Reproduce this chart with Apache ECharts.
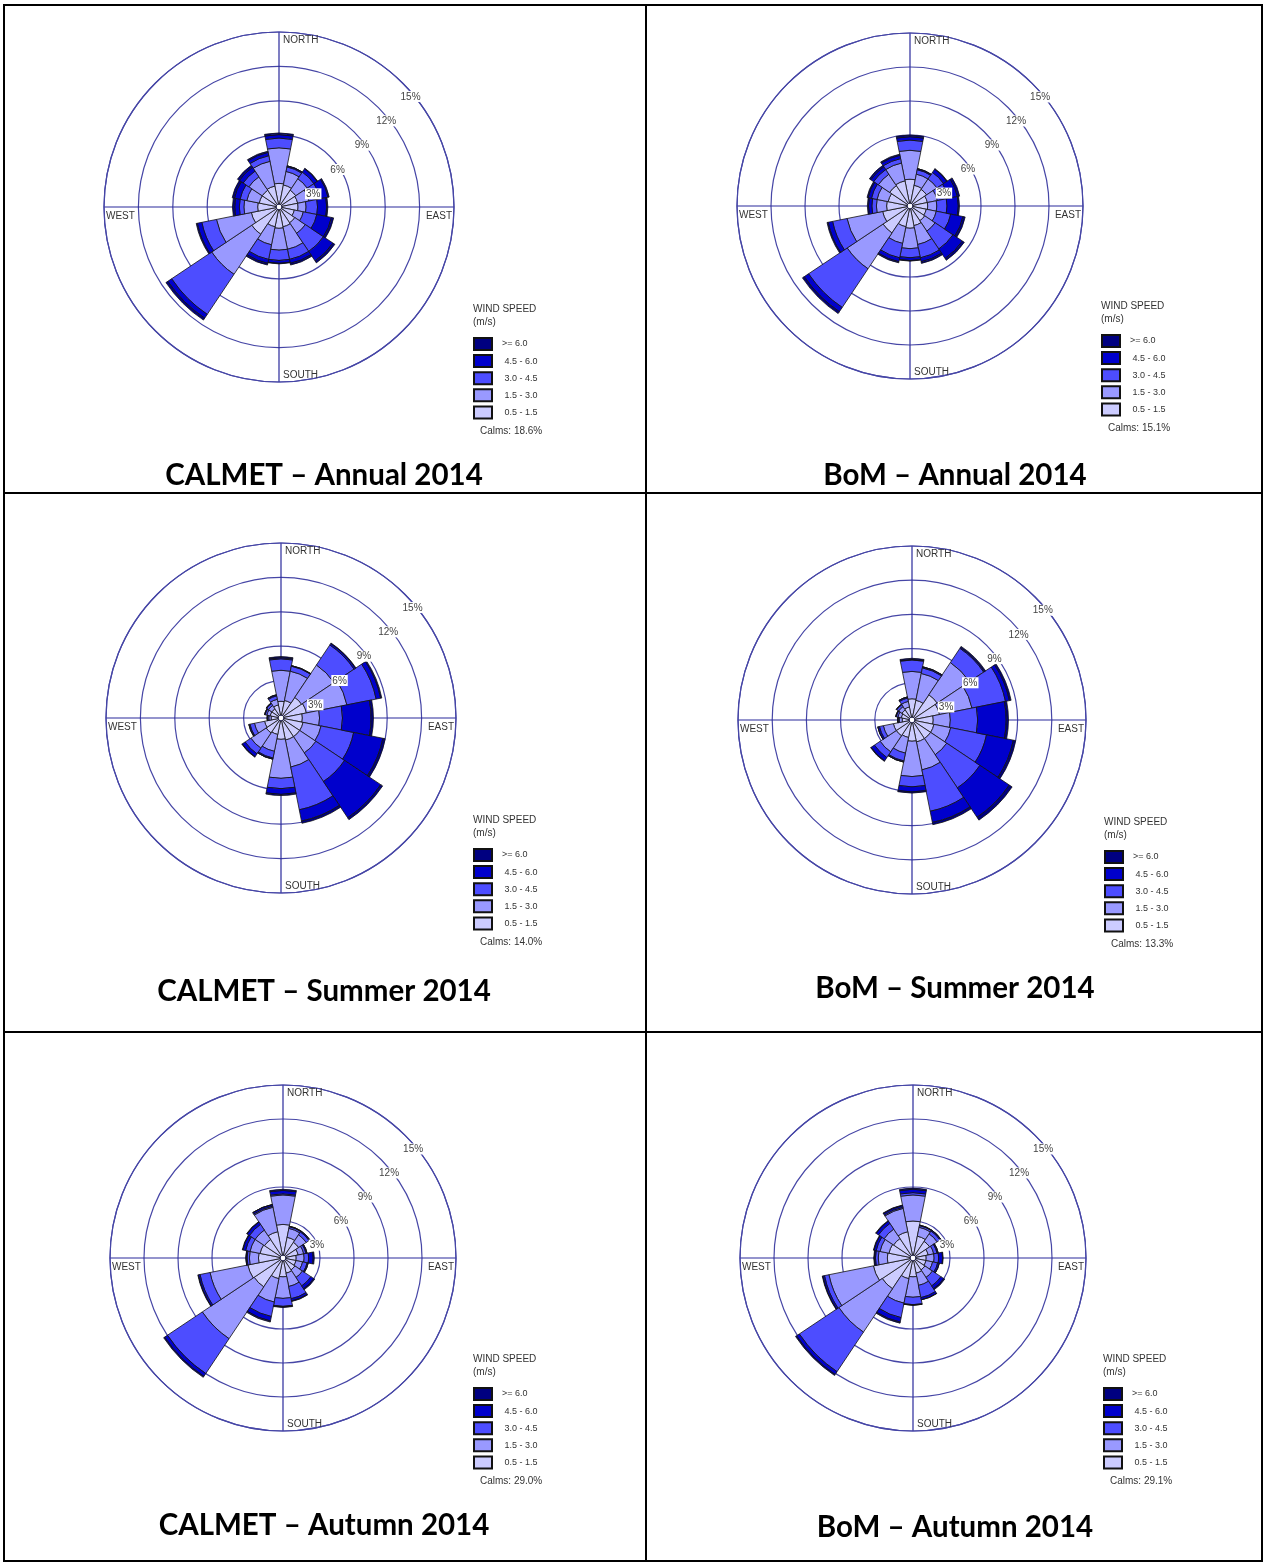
<!DOCTYPE html>
<html>
<head>
<meta charset="utf-8">
<title>Wind roses 2014 - CALMET vs BoM</title>
<script src="https://cdn.jsdelivr.net/npm/echarts@6/dist/echarts.min.js"></script>
<style>
  html, body { margin: 0; padding: 0; background: #fff; }
  #main { width: 1266px; height: 1564px; }
</style>
</head>
<body>
<div id="main"></div>
<script>
// categories and scale
var directions = ['N', 'NNE', 'NE', 'ENE', 'E', 'ESE', 'SE', 'SSE', 'S', 'SSW', 'SW', 'WSW', 'W', 'WNW', 'NW', 'NNW'];
var speedBins = ['0.5 - 1.5', '1.5 - 3.0', '3.0 - 4.5', '4.5 - 6.0', '>= 6.0'];
var binColors = ['#ccccff', '#9999ff', '#4d4dff', '#0000cc', '#000080'];
var ringTicks = [3, 6, 9, 12, 15];
var panelTitles = ['CALMET \u2013 Annual 2014', 'BoM \u2013 Annual 2014',
                   'CALMET \u2013 Summer 2014', 'BoM \u2013 Summer 2014',
                   'CALMET \u2013 Autumn 2014', 'BoM \u2013 Autumn 2014'];
var calms = [18.6, 15.1, 14.0, 13.3, 29.0, 29.1];

// frequency (%) per direction (rows N..NNW), per speed bin (columns 0.5-1.5 .. >=6.0)
var calmetAnnual = [
  [1.8, 3.1, 0.85, 0.3, 0.15],
  [1.7, 1.2, 0.4, 0.1, 0.0],
  [1.5, 1.2, 0.7, 0.35, 0.05],
  [1.4, 1.0, 1.0, 0.7, 0.1],
  [1.4, 0.7, 1.0, 0.8, 0.1],
  [1.1, 0.8, 1.2, 1.3, 0.2],
  [1.4, 1.1, 1.9, 1.0, 0.2],
  [1.5, 2.0, 0.9, 0.35, 0.15],
  [1.6, 1.9, 0.9, 0.25, 0.05],
  [1.5, 1.6, 1.3, 0.35, 0.15],
  [2.6, 4.2, 4.2, 0.4, 0.2],
  [2.2, 3.1, 1.3, 0.4, 0.1],
  [1.6, 1.2, 0.4, 0.4, 0.2],
  [1.5, 1.1, 0.6, 0.5, 0.2],
  [1.5, 1.4, 0.6, 0.4, 0.2],
  [1.6, 2.2, 0.5, 0.3, 0.1]
];
var bomAnnual = [
  [2.1, 2.55, 0.9, 0.3, 0.15],
  [1.6, 1.0, 0.4, 0.1, 0.0],
  [1.5, 1.1, 0.7, 0.35, 0.05],
  [1.3, 0.9, 1.0, 0.8, 0.2],
  [1.3, 0.8, 0.9, 1.0, 0.1],
  [1.2, 0.9, 1.3, 1.1, 0.2],
  [1.3, 1.1, 1.9, 1.0, 0.2],
  [1.5, 1.7, 1.2, 0.35, 0.15],
  [1.7, 1.8, 0.8, 0.25, 0.05],
  [1.6, 1.5, 1.3, 0.35, 0.1],
  [2.6, 3.8, 4.1, 0.45, 0.2],
  [2.2, 3.2, 1.3, 0.4, 0.1],
  [1.8, 0.9, 0.4, 0.3, 0.1],
  [1.7, 1.0, 0.5, 0.3, 0.1],
  [1.9, 1.2, 0.5, 0.3, 0.15],
  [2.0, 1.6, 0.4, 0.3, 0.1]
];
var calmetSummer = [
  [1.2, 2.7, 1.0, 0.1, 0.1],
  [1.3, 2.6, 0.45, 0.05, 0.0],
  [1.9, 3.4, 2.1, 0.15, 0.05],
  [2.0, 3.6, 2.6, 0.4, 0.1],
  [1.6, 1.5, 2.0, 2.5, 0.2],
  [1.7, 1.6, 2.9, 2.6, 0.2],
  [1.7, 1.7, 3.0, 3.8, 0.2],
  [1.7, 2.4, 3.8, 1.0, 0.2],
  [1.6, 3.4, 0.9, 0.5, 0.1],
  [1.2, 1.5, 0.6, 0.1, 0.0],
  [1.3, 1.6, 0.6, 0.3, 0.05],
  [1.2, 0.9, 0.4, 0.1, 0.0],
  [0.6, 0.2, 0.1, 0.05, 0.0],
  [0.7, 0.3, 0.15, 0.05, 0.0],
  [0.7, 0.35, 0.2, 0.05, 0.0],
  [0.9, 0.5, 0.3, 0.1, 0.0]
];
var bomSummer = [
  [1.6, 2.4, 1.0, 0.05, 0.1],
  [1.5, 2.4, 0.5, 0.1, 0.0],
  [2.4, 3.4, 1.5, 0.1, 0.1],
  [2.2, 2.9, 3.0, 0.35, 0.15],
  [1.6, 1.5, 2.4, 2.5, 0.2],
  [1.7, 1.5, 3.2, 2.4, 0.2],
  [1.7, 1.7, 3.5, 3.1, 0.3],
  [1.7, 2.5, 3.7, 1.0, 0.2],
  [1.6, 3.1, 0.9, 0.45, 0.1],
  [1.3, 1.4, 0.7, 0.1, 0.0],
  [1.4, 1.7, 0.6, 0.35, 0.05],
  [1.4, 0.9, 0.35, 0.15, 0.0],
  [0.6, 0.25, 0.1, 0.05, 0.0],
  [0.7, 0.3, 0.15, 0.05, 0.0],
  [0.8, 0.35, 0.2, 0.05, 0.0],
  [0.9, 0.5, 0.3, 0.1, 0.0]
];
var calmetAutumn = [
  [2.7, 2.6, 0.1, 0.3, 0.1],
  [1.6, 0.8, 0.15, 0.05, 0.0],
  [1.4, 0.8, 0.3, 0.1, 0.0],
  [1.1, 0.5, 0.2, 0.1, 0.0],
  [0.9, 0.7, 0.4, 0.4, 0.1],
  [0.9, 0.6, 0.4, 0.1, 0.0],
  [1.0, 0.8, 0.9, 0.3, 0.1],
  [1.1, 1.2, 1.1, 0.2, 0.05],
  [1.4, 1.9, 0.7, 0.05, 0.05],
  [1.6, 2.1, 1.3, 0.4, 0.1],
  [2.8, 5.5, 3.7, 0.3, 0.1],
  [2.9, 3.4, 0.9, 0.15, 0.05],
  [1.9, 0.8, 0.2, 0.1, 0.0],
  [1.8, 0.9, 0.4, 0.25, 0.05],
  [1.7, 1.0, 0.6, 0.25, 0.05],
  [2.1, 2.2, 0.1, 0.15, 0.0]
];
var bomAutumn = [
  [3.0, 2.3, 0.2, 0.3, 0.1],
  [1.7, 0.8, 0.15, 0.05, 0.0],
  [1.5, 0.8, 0.3, 0.1, 0.0],
  [1.1, 0.5, 0.3, 0.1, 0.0],
  [0.9, 0.7, 0.4, 0.35, 0.05],
  [0.9, 0.6, 0.45, 0.15, 0.0],
  [1.0, 0.8, 0.9, 0.3, 0.1],
  [1.1, 1.1, 1.1, 0.2, 0.0],
  [1.4, 1.8, 0.65, 0.05, 0.0],
  [1.6, 2.2, 1.3, 0.4, 0.1],
  [3.0, 4.6, 4.2, 0.3, 0.1],
  [3.3, 4.0, 0.4, 0.15, 0.05],
  [2.0, 0.8, 0.25, 0.1, 0.05],
  [1.9, 0.8, 0.35, 0.2, 0.05],
  [1.8, 1.0, 0.6, 0.25, 0.05],
  [2.1, 2.1, 0.1, 0.15, 0.05]
];
var panelData = [calmetAnnual, bomAnnual, calmetSummer, bomSummer, calmetAutumn, bomAutumn];

// page layout (px)
var layout = [
  { cx: 279, cy: 207, r: 175, legX: 473, legY: 337, capX: 324, capY: 475 },
  { cx: 910, cy: 206, r: 173, legX: 1101, legY: 334, capX: 955, capY: 475 },
  { cx: 281, cy: 718, r: 175, legX: 473, legY: 848, capX: 324, capY: 991 },
  { cx: 912, cy: 720, r: 174, legX: 1104, legY: 850, capX: 955, capY: 988 },
  { cx: 283, cy: 1258, r: 173, legX: 473, legY: 1387, capX: 324, capY: 1525 },
  { cx: 913, cy: 1258, r: 173, legX: 1103, legY: 1387, capX: 955, capY: 1527 }
];

var ringColor = '#4646a6';
var crossColor = '#2a2a9c';
var font = 'Liberation Sans';

function windRoses(id) {
    var chart = echarts.init(document.getElementById(id));
    var polar = [], angleAxis = [], radiusAxis = [], series = [], legend = [], title = [], graphic = [];
    var rMax = ringTicks[ringTicks.length - 1];
    var step = ringTicks[0];

    panelData.forEach(function (rows, k) {
        var p = layout[k];
        var g = k * 3;

        // rings and compass cross
        polar.push({ center: [p.cx, p.cy], radius: [3, p.r] });
        angleAxis.push({
            polarIndex: g, type: 'value', min: 0, max: 360, interval: 90, startAngle: 90,
            axisLine: { lineStyle: { color: ringColor, width: 1.2 } },
            axisTick: { show: false }, axisLabel: { show: false },
            splitLine: { show: true, lineStyle: { color: crossColor, width: 1.2 } }
        });
        radiusAxis.push({
            polarIndex: g, type: 'value', min: 0, max: rMax, interval: step,
            axisLine: { show: false }, axisTick: { show: false }, axisLabel: { show: false },
            splitLine: { show: true, lineStyle: { color: ringColor, width: 1.2 } }
        });

        // sectors
        polar.push({ center: [p.cx, p.cy], radius: [3, p.r] });
        angleAxis.push({
            polarIndex: g + 1, type: 'category', data: directions, startAngle: 90 + 180 / directions.length,
            boundaryGap: true, axisLine: { show: false }, axisTick: { show: false },
            axisLabel: { show: false }, splitLine: { show: false }
        });
        radiusAxis.push({ polarIndex: g + 1, type: 'value', min: 0, max: rMax, show: false });

        // ring labels, along the north-east ray, pushed to its clockwise side
        polar.push({ center: [p.cx, p.cy], radius: [3, p.r] });
        angleAxis.push({ polarIndex: g + 2, type: 'value', min: 0, max: 360, startAngle: 45, show: false });
        radiusAxis.push({
            polarIndex: g + 2, type: 'value', min: 0, max: rMax, interval: step, z: 10,
            axisLine: { show: false }, axisTick: { show: false }, splitLine: { show: false },
            axisLabel: {
                show: true, margin: -11, align: 'center', verticalAlign: 'top',
                showMinLabel: false, formatter: function (v) { return v + '%'; },
                backgroundColor: '#fff', padding: [1, 1, 0, 1],
                fontFamily: font, fontSize: 10, color: '#444'
            }
        });

        speedBins.forEach(function (bin, j) {
            series.push({
                name: bin,
                type: 'bar',
                coordinateSystem: 'polar',
                polarIndex: g + 1,
                stack: 'rose' + k,
                barCategoryGap: '0%',
                z: 3,
                itemStyle: { color: binColors[j], borderColor: '#111', borderWidth: 0.8 },
                data: rows.map(function (r) { return r[j]; })
            });
        });

        legend.push({
            data: speedBins.slice().reverse(),
            orient: 'vertical', left: p.legX, top: p.legY,
            itemWidth: 18, itemHeight: 12, itemGap: 3.1, padding: 0,
            icon: 'rect', selectedMode: false,
            formatter: function (name) { return name.charAt(0) === '>' ? name : ' ' + name; },
            textStyle: { fontFamily: font, fontSize: 9, lineHeight: 12, color: '#333', padding: [0, 0, 0, 5] }
        });

        title.push({
            text: panelTitles[k], left: p.capX, top: p.capY, textAlign: 'center', textVerticalAlign: 'middle',
            padding: 0,
            textStyle: { fontFamily: 'Lato', fontWeight: 'bold', fontSize: 29.5, color: '#000' }
        });
        title.push({
            text: 'WIND SPEED\n(m/s)', left: p.legX, top: p.legY - 34, padding: 0,
            textStyle: { fontFamily: font, fontSize: 10, fontWeight: 'normal', color: '#333', lineHeight: 13 }
        });
        title.push({
            text: 'Calms: ' + calms[k].toFixed(1) + '%', left: p.legX + 7, top: p.legY + 89, padding: 0,
            textStyle: { fontFamily: font, fontSize: 10, fontWeight: 'normal', color: '#333' }
        });

        var lbl = { fontFamily: font, fontSize: 10, fill: '#333' };
        graphic.push({ type: 'text', z: 50, x: p.cx + 4, y: p.cy - p.r + 8,
            style: Object.assign({ text: 'NORTH', align: 'left', verticalAlign: 'middle' }, lbl) });
        graphic.push({ type: 'text', z: 50, x: p.cx + 4, y: p.cy + p.r - 7,
            style: Object.assign({ text: 'SOUTH', align: 'left', verticalAlign: 'middle' }, lbl) });
        graphic.push({ type: 'text', z: 50, x: p.cx - p.r + 2, y: p.cy + 9,
            style: Object.assign({ text: 'WEST', align: 'left', verticalAlign: 'middle' }, lbl) });
        graphic.push({ type: 'text', z: 50, x: p.cx + p.r - 2, y: p.cy + 9,
            style: Object.assign({ text: 'EAST', align: 'right', verticalAlign: 'middle' }, lbl) });
    });

    // table borders
    var border = { stroke: '#000', lineWidth: 2 };
    graphic.push({ type: 'rect', z: 60, shape: { x: 4, y: 5, width: 1258, height: 1556 }, style: Object.assign({ fill: 'none' }, border) });
    graphic.push({ type: 'line', z: 60, shape: { x1: 646, y1: 5, x2: 646, y2: 1561 }, style: border });
    graphic.push({ type: 'line', z: 60, shape: { x1: 4, y1: 493, x2: 1262, y2: 493 }, style: border });
    graphic.push({ type: 'line', z: 60, shape: { x1: 4, y1: 1032, x2: 1262, y2: 1032 }, style: border });

    chart.setOption({
        animation: false,
        backgroundColor: '#fff',
        title: title,
        legend: legend,
        polar: polar,
        angleAxis: angleAxis,
        radiusAxis: radiusAxis,
        series: series,
        graphic: graphic
    });
}

windRoses('main');
</script>
</body>
</html>
